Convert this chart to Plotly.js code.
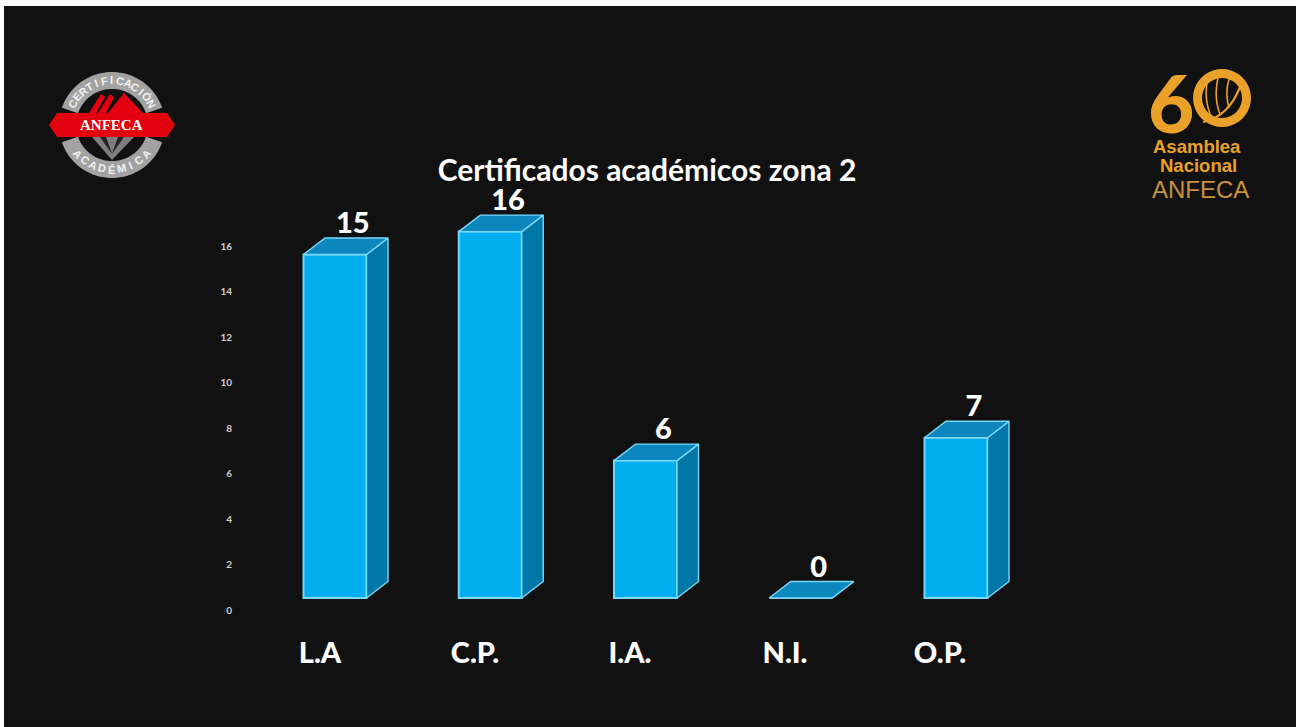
<!DOCTYPE html>
<html lang="es">
<head>
<meta charset="utf-8">
<title>Certificados académicos zona 2</title>
<script src="https://cdn.plot.ly/plotly-3.0.1.min.js"></script>
<style>
html,body{margin:0;padding:0;background:#fff;width:1296px;height:727px;overflow:hidden}
#chart{position:absolute;left:4px;top:6px;width:1292px;height:721px}
</style>
</head>
<body>
<div id="chart"></div>
<script>
// ---- data ----
const categories = ["L.A", "C.P.", "I.A.", "N.I.", "O.P."];
const values = [15, 16, 6, 0, 7];
const yTicks = [0, 2, 4, 6, 8, 10, 12, 14, 16];
const chartTitle = "Certificados académicos zona 2";

// ---- geometry ----
const W = 1292, H = 721, OX = 4, OY = 6;
const PX = x => (x - OX) / W, PY = y => 1 - (y - OY) / H;
const xStep = 155.25, yStep = 22.9, x0Px = 335, y0Px = 598;
const tickYStep = 22.75, tickY0 = 610, labelX0 = 320, labelXStep = 155;
const barW = 63 / xStep, dx = 21.5 / xStep, dy = 16.5 / yStep;
const idx = categories.map((_, i) => i);
const C = {bg:"#111111", front:"#00AEEF", top:"#0E87BE", side:"#0077A6", edge:"#7AD8F7",
           orange:"#E9A12A", orangeDim:"#C8933C", gray:"#A2A2A2", red:"#E3000F"};

function faces(fn){ const xs=[], ys=[];
  idx.forEach(i=>{ fn(i, values[i]).forEach(p=>{xs.push(p[0]);ys.push(p[1]);}); xs.push(null); ys.push(null); });
  return {x:xs,y:ys}; }
const sideF = faces((i,v)=>{ const r=i+barW/2; return [[r,0],[r+dx,dy],[r+dx,v+dy],[r,v],[r,0]]; });
const topF  = faces((i,v)=>{ const l=i-barW/2, r=i+barW/2; return [[l,v],[l+dx,v+dy],[r+dx,v+dy],[r,v],[l,v]]; });

const traces = [
 {type:"bar", x:idx, y:values, width:barW, marker:{color:C.front, line:{color:C.edge,width:2}}, hoverinfo:"skip", showlegend:false},
 {type:"scatter", mode:"lines", x:sideF.x, y:sideF.y, fill:"toself", fillcolor:C.side, line:{color:C.edge,width:1.4}, hoverinfo:"skip", showlegend:false},
 {type:"scatter", mode:"lines", x:topF.x, y:topF.y, fill:"toself", fillcolor:C.top, line:{color:C.edge,width:1.4}, hoverinfo:"skip", showlegend:false},
 {type:"scatter", mode:"text", x:idx.map(i=>i+0.115), y:values.map(v=>v+1.245), text:values.map(String), textposition:"middle center",
  textfont:{family:"Lato",size:29,color:"#fff",weight:900}, hoverinfo:"skip", showlegend:false},
 // carrier for the offset tick axes
 {type:"scatter", mode:"markers", x:idx, y:yTicks.slice(0,idx.length), xaxis:"x2", yaxis:"y2", marker:{size:1,opacity:0}, hoverinfo:"skip", showlegend:false}
];

// ---- logos (decoration) ----
const shapes = [], annotations = [];
function poly(pts, fill, line, lw, close=true){
  const d = pts.map((p,i)=>(i?"L":"M")+PX(p[0]).toFixed(5)+","+PY(p[1]).toFixed(5)).join(" ")+(close?" Z":"");
  shapes.push({type:"path",xref:"paper",yref:"paper",path:d,fillcolor:fill||"rgba(0,0,0,0)",line:{color:line||"rgba(0,0,0,0)",width:lw||0},layer:"below"});
}
function curve(a,c,b,col,lw){ const pts=[]; for(let k=0;k<=16;k++){const t=k/16,u=1-t;
  pts.push([u*u*a[0]+2*u*t*c[0]+t*t*b[0],u*u*a[1]+2*u*t*c[1]+t*t*b[1]]);} poly(pts,null,col,lw,false); }
function sector(cx,cy,r0,r1,a0,a1,fill){ const pts=[]; const n=40;
  for(let k=0;k<=n;k++){const a=(a0+(a1-a0)*k/n)*Math.PI/180; pts.push([cx+r1*Math.sin(a),cy-r1*Math.cos(a)]);}
  for(let k=n;k>=0;k--){const a=(a0+(a1-a0)*k/n)*Math.PI/180; pts.push([cx+r0*Math.sin(a),cy-r0*Math.cos(a)]);}
  poly(pts,fill); }
function note(text,x,y,size,color,family,weight,angle){
  annotations.push({xref:"paper",yref:"paper",x:PX(x),y:PY(y),text,showarrow:false,xanchor:"center",yanchor:"middle",
    textangle:angle||0,font:{size,color,family,weight:weight||400}});
}
// certification seal
const sx=112, sy=125;
sector(sx,sy,36,53,-71,71,C.gray);
sector(sx,sy,36,53,109,251,C.gray);
poly([[89,113],[101,94],[105,97],[96,113]],C.red);
poly([[98,113],[110,94],[114,97],[106,113]],C.red);
poly([[108,113],[124,93],[143,113]],C.red);
poly([[92,137],[112,160],[134,137]],"#7E7E7E");
poly([[100,137],[112,154],[106,137]],"#222");
poly([[124,137],[112,154],[118,137]],"#222");
poly([[49,125],[57,113],[167,113],[175,125],[167,137],[57,137]],C.red);
note("ANFECA",sx,sy,15,"#fff","Liberation Serif",700);
const sealTop="CERTIFICACIÓN".split(""), sealBottom="ACADÉMICA".split("");
sealTop.forEach((c,i)=>{const a=-62+124*i/(sealTop.length-1);
  note(c,sx+44.5*Math.sin(a*Math.PI/180),sy-44.5*Math.cos(a*Math.PI/180),11,"#F2F2F2","Liberation Sans",700,a);});
sealBottom.forEach((c,i)=>{const a=-50+100*i/(sealBottom.length-1);
  note(c,sx+44.5*Math.sin(a*Math.PI/180),sy+44.5*Math.cos(a*Math.PI/180),11,"#F2F2F2","Liberation Sans",700,-a);});
// 60 anniversary mark
const rc=[1222,98];
sector(rc[0],rc[1],20,29,0,360,C.orange);
curve([1203,122],[1230,116],[1241,84],C.orange,2.2);
curve([1212,118],[1203,100],[1208,78],C.orange,1.6);
curve([1220,114],[1213,96],[1219,74],C.orange,1.6);
curve([1229,108],[1224,90],[1231,74],C.orange,1.6);
note("6",1171,102,80,C.orange,"Lato",900);
note("Asamblea",1197,146,18.5,C.orange,"Liberation Sans",700);
note("Nacional",1198,165,18.5,C.orange,"Liberation Sans",700);
note("ANFECA",1200,189,24,C.orangeDim,"Liberation Sans",400);

const layout = {
  width:W, height:H, margin:{l:0,r:0,t:0,b:0,pad:0}, paper_bgcolor:C.bg, plot_bgcolor:"rgba(0,0,0,0)",
  showlegend:false, barmode:"overlay",
  title:{text:chartTitle, x:PX(647), y:PY(170), xanchor:"center", yanchor:"middle", xref:"paper", yref:"paper",
         font:{family:"Lato",size:30,color:"#fff",weight:700}},
  xaxis:{range:[(OX-x0Px)/xStep,(OX+W-x0Px)/xStep], visible:false, fixedrange:true},
  yaxis:{range:[(y0Px-OY-H)/yStep,(y0Px-OY)/yStep], visible:false, fixedrange:true},
  xaxis2:{overlaying:"x", anchor:"free", position:PY(633), side:"bottom",
    range:[(OX-labelX0)/labelXStep,(OX+W-labelX0)/labelXStep],
    tickmode:"array", tickvals:idx, ticktext:categories, ticklen:0, showgrid:false, zeroline:false, showline:false, fixedrange:true,
    tickfont:{family:"Lato",size:29,color:"#fff",weight:900}},
  yaxis2:{overlaying:"y", anchor:"free", position:PX(232), side:"left",
    range:[(tickY0-OY-H)/tickYStep,(tickY0-OY)/tickYStep],
    tickmode:"array", tickvals:yTicks, ticktext:yTicks.map(String), ticklen:0, showgrid:false, zeroline:false, showline:false, fixedrange:true,
    tickfont:{family:"Lato",size:10,color:"#D2D2D2",weight:700}},
  shapes, annotations
};
Plotly.newPlot("chart", traces, layout, {displayModeBar:false, responsive:false, staticPlot:true});
</script>
</body>
</html>
